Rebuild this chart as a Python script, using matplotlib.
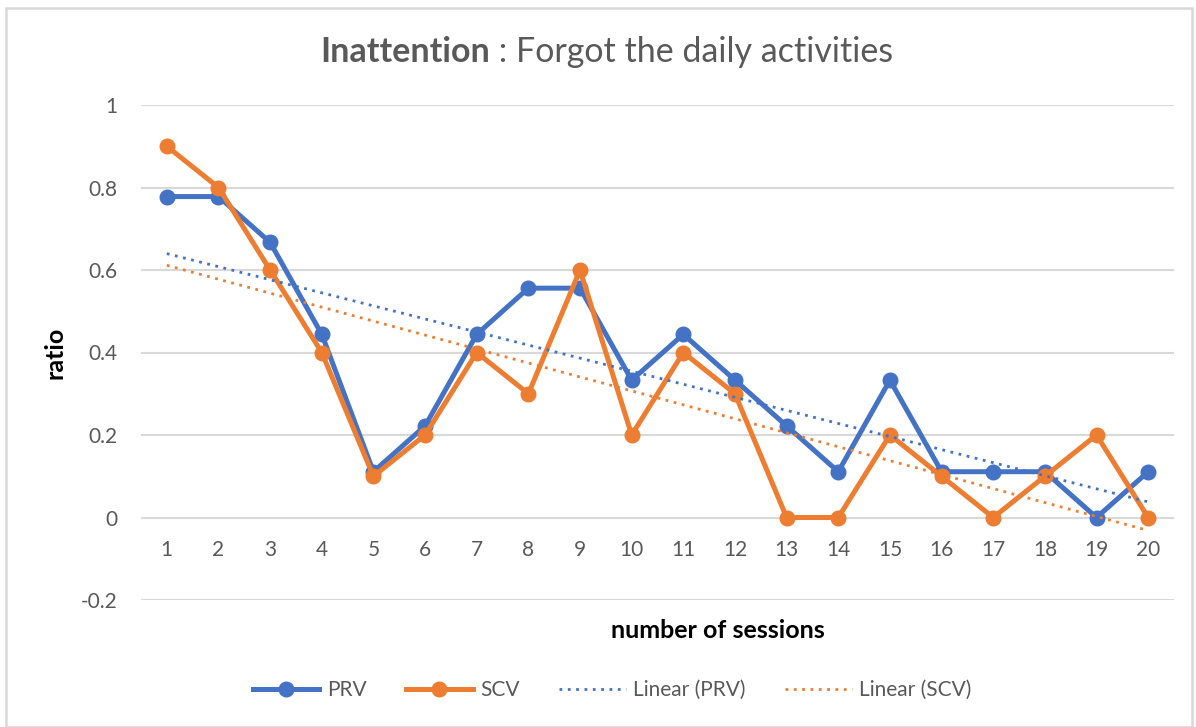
import matplotlib
matplotlib.use('Agg')
import matplotlib.pyplot as plt
from matplotlib.patches import Rectangle
import numpy as np

sessions = list(range(1, 21))
prv = [0.778, 0.778, 0.667, 0.444, 0.111, 0.222, 0.444, 0.556, 0.556, 0.333,
       0.444, 0.333, 0.222, 0.111, 0.333, 0.111, 0.111, 0.111, 0.0, 0.111]
scv = [0.9, 0.8, 0.6, 0.4, 0.1, 0.2, 0.4, 0.3, 0.6, 0.2,
       0.4, 0.3, 0.0, 0.0, 0.2, 0.1, 0.0, 0.1, 0.2, 0.0]
y_ticks = [-0.2, 0, 0.2, 0.4, 0.6, 0.8, 1]
y_tick_labels = ['-0.2', '0', '0.2', '0.4', '0.6', '0.8', '1']

BLUE = '#4472C4'
ORANGE = '#ED7D31'
TEXT = '#595959'
GRID = '#D9D9D9'

plt.rcParams['font.family'] = ['Lato', 'DejaVu Sans']

W, H = 1196, 727
fig = plt.figure(figsize=(W / 100, H / 100), dpi=100)
fig.patches.append(Rectangle((6 / W, 0), (W - 10) / W, (H - 8) / H, transform=fig.transFigure,
                             fill=False, edgecolor='#D9D9D9', linewidth=1.8))

ax = fig.add_axes([141 / W, 1 - 600 / H, (1174 - 141) / W, 495 / H])

x = np.array(sessions)
ax.plot(x, prv, color=BLUE, lw=3.6, marker='o', ms=10.5, label='PRV', zorder=3)
ax.plot(x, scv, color=ORANGE, lw=3.6, marker='o', ms=10.5, label='SCV', zorder=4)

for vals, col, name in [(prv, BLUE, 'Linear (PRV)'), (scv, ORANGE, 'Linear (SCV)')]:
    k, b = np.polyfit(x, vals, 1)
    ax.plot(x, k * x + b, color=col, lw=2, linestyle=(0, (1, 2)), label=name, zorder=5)

ax.set_xlim(0.5, 20.5)
ax.set_ylim(-0.2, 1.0)
ax.set_xticks(sessions)
ax.set_yticks(y_ticks)
ax.set_yticklabels(y_tick_labels)
ax.grid(axis='y', color=GRID, lw=1.5)
ax.set_axisbelow(True)
for s in ['top', 'right', 'left']:
    ax.spines[s].set_visible(False)
ax.spines['bottom'].set_position(('data', 0))
ax.spines['bottom'].set_visible(False)
ax.tick_params(axis='x', length=0, pad=16, labelsize=15, labelcolor=TEXT)
ax.tick_params(axis='y', length=0, pad=17, labelsize=15, labelcolor=TEXT)

# title: bold part + normal part, centred together
renderer = fig.canvas.get_renderer()
t1 = fig.text(0, 1 - 52 / H, 'Inattention', fontsize=24.5, fontweight='bold', color=TEXT,
              ha='left', va='center')
t2 = fig.text(0, 1 - 52 / H, ' : Forgot the daily activities', fontsize=24.5, color=TEXT,
              ha='left', va='center')
w1 = t1.get_window_extent(renderer).width
w2 = t2.get_window_extent(renderer).width
left = 607 - (w1 + w2) / 2
t1.set_x(left / W)
t2.set_x((left + w1) / W)

fig.text(718 / W, 1 - 631 / H, 'number of sessions', fontsize=18, fontweight='bold',
         color='#000000', ha='center', va='center')
fig.text(55 / W, 1 - 353 / H, 'ratio', fontsize=18, fontweight='bold', color='#000000',
         rotation=90, ha='center', va='center')

ax.legend(loc='center', bbox_to_anchor=(612 / W, 1 - 690 / H), bbox_transform=fig.transFigure,
          ncol=4, frameon=False, fontsize=15, labelcolor=TEXT, handlelength=3.2,
          columnspacing=1.9, handletextpad=0.35)

fig.savefig('out.png', dpi=100)
